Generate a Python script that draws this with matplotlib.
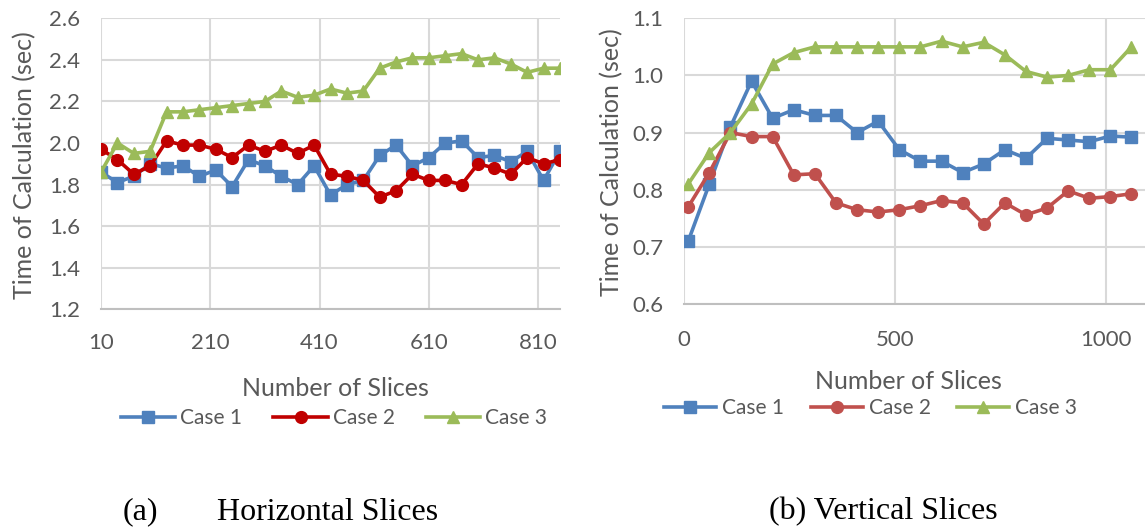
import matplotlib
matplotlib.use('Agg')
import matplotlib.pyplot as plt

# Number of slices (x values)
slices_h = [10, 40, 70, 100, 130, 160, 190, 220, 250, 280, 310, 340, 370, 400, 430,
            460, 490, 520, 550, 580, 610, 640, 670, 700, 730, 760, 790, 820, 850]
slices_v = [10, 60, 110, 160, 210, 260, 310, 360, 410, 460, 510, 560, 610, 660, 710,
            760, 810, 860, 910, 960, 1010, 1060]

# (a) horizontal slices, time in seconds
h_case1 = [1.86, 1.81, 1.84, 1.90, 1.88, 1.89, 1.84, 1.87, 1.79, 1.92, 1.89, 1.84, 1.80, 1.89, 1.75,
           1.80, 1.82, 1.94, 1.99, 1.89, 1.93, 2.00, 2.01, 1.93, 1.94, 1.91, 1.96, 1.82, 1.96]
h_case2 = [1.97, 1.92, 1.85, 1.89, 2.01, 1.99, 1.99, 1.97, 1.93, 1.99, 1.96, 1.99, 1.95, 1.99, 1.85,
           1.84, 1.82, 1.74, 1.77, 1.85, 1.82, 1.82, 1.80, 1.90, 1.88, 1.85, 1.93, 1.90, 1.92]
h_case3 = [1.86, 2.00, 1.95, 1.96, 2.15, 2.15, 2.16, 2.17, 2.18, 2.19, 2.20, 2.25, 2.22, 2.23, 2.26,
           2.24, 2.25, 2.36, 2.39, 2.41, 2.41, 2.42, 2.43, 2.40, 2.41, 2.38, 2.34, 2.36, 2.36]

# (b) vertical slices, time in seconds
v_case1 = [0.71, 0.81, 0.91, 0.99, 0.925, 0.94, 0.93, 0.93, 0.90, 0.92, 0.87, 0.85, 0.85, 0.83,
           0.845, 0.87, 0.855, 0.89, 0.887, 0.884, 0.894, 0.892]
v_case2 = [0.77, 0.83, 0.90, 0.893, 0.893, 0.826, 0.828, 0.777, 0.765, 0.761, 0.765, 0.772, 0.781,
           0.777, 0.740, 0.777, 0.756, 0.768, 0.798, 0.785, 0.788, 0.793]
v_case3 = [0.81, 0.865, 0.90, 0.95, 1.02, 1.04, 1.05, 1.05, 1.05, 1.05, 1.05, 1.05, 1.06, 1.05,
           1.058, 1.036, 1.007, 0.997, 1.00, 1.01, 1.01, 1.05]

labels = ['Case 1', 'Case 2', 'Case 3']
fam = ['Lato', 'DejaVu Sans']
gray = '#595959'
grid = '#D9D9D9'

fig = plt.figure(figsize=(11.45, 5.28), dpi=100)
ax1 = fig.add_axes([101 / 1145, 1 - 309.3 / 528, 459 / 1145, 291 / 528])
ax2 = fig.add_axes([684 / 1145, 1 - 304 / 528, 461 / 1145, 285.7 / 528])


def style(ax):
    ax.grid(True, color=grid, linewidth=1.5)
    ax.set_axisbelow(True)
    for s in ['left', 'right', 'top']:
        ax.spines[s].set_visible(False)
    ax.spines['bottom'].set_color('#BFBFBF')
    ax.spines['bottom'].set_linewidth(1.5)
    ax.tick_params(length=0, labelcolor=gray, labelsize=16)
    for t in ax.get_xticklabels() + ax.get_yticklabels():
        t.set_family(fam)


# left chart
ax1.plot(slices_h, h_case1, color='#4F81BD', lw=2.6, marker='s', ms=8, label=labels[0])
ax1.plot(slices_h, h_case2, color='#C00000', lw=2.6, marker='o', ms=8.5, label=labels[1])
ax1.plot(slices_h, h_case3, color='#9BBB59', lw=2.6, marker='^', ms=9, label=labels[2])
ax1.set_xlim(10, 850)
ax1.set_ylim(1.2, 2.6)
ax1.set_xticks([10, 210, 410, 610, 810])
ax1.set_yticks([1.2, 1.4, 1.6, 1.8, 2.0, 2.2, 2.4, 2.6])
ax1.set_yticklabels(['1.2', '1.4', '1.6', '1.8', '2.0', '2.2', '2.4', '2.6'])
ax1.tick_params(axis='x', pad=17)
ax1.tick_params(axis='y', pad=15)
style(ax1)
ax1.set_xlabel('Number of Slices', fontsize=18, color=gray, family=fam, va='center')
ax1.xaxis.set_label_coords(0.51, -0.272)
ax1.set_ylabel('Time of Calculation (sec)', fontsize=18, color=gray, family=fam, va='center')
ax1.yaxis.set_label_coords(-0.166, 0.496)
ax1.legend(loc='center', bbox_to_anchor=(0.508, -0.3735), ncol=3, frameon=False,
           prop={'family': fam, 'size': 15}, labelcolor=gray, handlelength=2.6,
           handletextpad=0.25, columnspacing=1.5, borderpad=0)

# right chart
ax2.plot(slices_v, v_case1, color='#4F81BD', lw=2.6, marker='s', ms=8, label=labels[0])
ax2.plot(slices_v, v_case2, color='#C0504D', lw=2.6, marker='o', ms=8.5, label=labels[1])
ax2.plot(slices_v, v_case3, color='#9BBB59', lw=2.6, marker='^', ms=9, label=labels[2])
ax2.set_xlim(0, 1092)
ax2.set_ylim(0.6, 1.1)
ax2.set_xticks([0, 500, 1000])
ax2.set_yticks([0.6, 0.7, 0.8, 0.9, 1.0, 1.1])
ax2.set_yticklabels(['0.6', '0.7', '0.8', '0.9', '1.0', '1.1'])
ax2.tick_params(axis='x', pad=19)
ax2.tick_params(axis='y', pad=15)
style(ax2)
ax2.set_xlabel('Number of Slices', fontsize=18, color=gray, family=fam, va='center')
ax2.xaxis.set_label_coords(0.486, -0.273)
ax2.set_ylabel('Time of Calculation (sec)', fontsize=18, color=gray, family=fam, va='center')
ax2.yaxis.set_label_coords(-0.156, 0.497)
ax2.legend(loc='center', bbox_to_anchor=(0.405, -0.364), ncol=3, frameon=False,
           prop={'family': fam, 'size': 15}, labelcolor=gray, handlelength=2.5,
           handletextpad=0.3, columnspacing=1.25, borderpad=0)

# captions
serif = ['Liberation Serif', 'DejaVu Serif']
fig.text(140 / 1145, 1 - 512 / 528, '(a)', family=serif, fontsize=23, ha='center', va='center')
fig.text(328 / 1145, 1 - 512 / 528, 'Horizontal Slices', family=serif, fontsize=23,
         ha='center', va='center')
fig.text(883 / 1145, 1 - 512 / 528, '(b) Vertical Slices', family=serif, fontsize=23,
         ha='center', va='center')

fig.savefig('out.png', dpi=100, facecolor='white')
